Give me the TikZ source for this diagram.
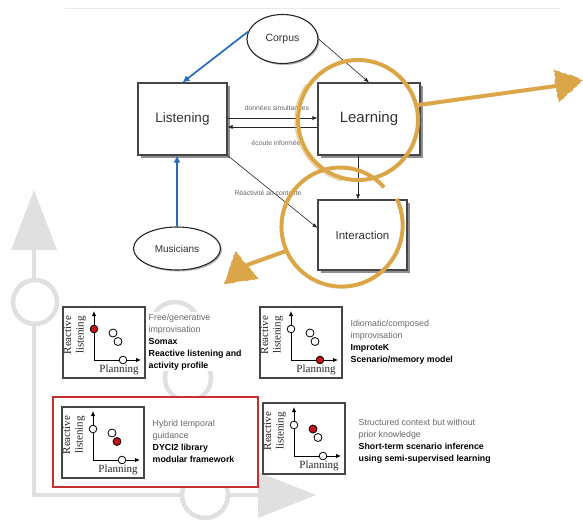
\documentclass[tikz,border=0pt]{standalone}
\usepackage{fontspec}
\setmainfont{Liberation Sans}
\newfontfamily\iconfont{Liberation Serif}
\usetikzlibrary{arrows.meta,shadows,calc,shapes.geometric,decorations.pathmorphing}

\definecolor{ochre}{RGB}{218,166,72}
\definecolor{flowblue}{RGB}{38,108,186}
\definecolor{axisgrey}{RGB}{224,224,224}
\definecolor{framegrey}{RGB}{70,70,70}
\definecolor{notegrey}{RGB}{105,105,105}
\definecolor{panelred}{RGB}{200,48,48}
\definecolor{dotred}{RGB}{196,18,28}

\tikzset{
  stagebox/.style={draw=framegrey, line width=1.1pt, fill=white, inner sep=0pt,
    text=black!80, drop shadow={shadow xshift=2.5pt, shadow yshift=-2.5pt, fill=black!55, opacity=.8}},
  source/.style={ellipse, draw=black!85, line width=1.1pt, fill=white, inner sep=0pt,
    text=black!80, drop shadow={shadow xshift=1.5pt, shadow yshift=-1.5pt, fill=black!40, opacity=.7}},
  link/.style={draw=black!85, line width=0.6pt, -{Latex[length=5pt,width=4pt]}},
  flow/.style={draw=flowblue, line width=1.7pt, -{Latex[length=7pt,width=7pt]}},
  smalllabel/.style={font=\fontsize{6.8}{8}\selectfont, text=black!60, inner sep=0pt},
  backdrop/.style={draw=axisgrey, line width=4.5pt},
  ring/.style={draw=ochre, line width=4pt},
  brush/.style={fill=ochre, decorate, decoration={random steps, segment length=2.5pt, amplitude=0.7pt}},
  iconframe/.style={draw=framegrey, line width=1.2pt, fill=white, minimum width=82pt,
    minimum height=71pt, inner sep=0pt},
  iconaxis/.style={draw=black, line width=0.9pt, -{Latex[length=5pt,width=4.5pt]}},
  icondot/.style={draw=black, line width=0.8pt},
  iconlabel/.style={font=\iconfont\fontsize{11}{12.5}\selectfont, inner sep=0pt, text=black!85},
  paneltext/.style={font=\fontsize{8.8}{12}\selectfont, align=left, anchor=north west,
    inner sep=1.5pt, fill=white},
}

% Small "reactive listening / planning" diagram.
% #1 origin, #2 name, #3 dot on the listening axis, #4 dot on the planning axis,
% #5 upper middle dot, #6 lower middle dot
\newcommand\rlicon[6]{%
  \begin{scope}[shift={(#1)}]
    \node[iconframe] (#2) at (41,35.5) {};
    \coordinate (#2o) at (31,53);
    \draw[iconaxis] (#2o) -- ++(0,-49);
    \draw[iconaxis] (#2o) -- ++(47,0);
    \draw[icondot, fill=#3] (31,22) circle (3.8);
    \draw[icondot, fill=#4] (60,53) circle (3.8);
    \draw[icondot, fill=#5] (50,26) circle (4);
    \draw[icondot, fill=#6] (55,34.5) circle (4);
    \node[iconlabel, rotate=90, align=center] (#2r) at (12,28) {Reactive\\listening};
    \node[iconlabel] (#2p) at (56,63) {Planning};
  \end{scope}}

\begin{document}
\begin{tikzpicture}[x=1pt,y=-1pt]
\useasboundingbox (0,0) rectangle (583,519);
\fill[white] (0,0) rectangle (583,519);
\draw[black!8, line width=0.8pt] (65,8) -- (560,8);

% large pale axes in the background
\draw[backdrop] (34,248) -- (34,495) -- (260,495);
\fill[axisgrey] (34,190) -- (57,250) -- (11,250) -- cycle;
\fill[axisgrey] (316,495) -- (258,472) -- (258,518) -- cycle;
\draw[backdrop, fill=white] (35,302) circle (22);
\draw[backdrop, fill=white] (205,495) circle (23);
\draw[backdrop] (175,326) circle (24);
\draw[backdrop] (188,378) circle (23);

% processing stages
\node[stagebox, minimum width=89pt, minimum height=72pt, font=\fontsize{13.5}{16}\selectfont] (listening) at (182.5,119) {Listening};
\node[stagebox, minimum width=102pt, minimum height=72pt, font=\fontsize{15}{18}\selectfont] (learning) at (369,119) {Learning};
\node[stagebox, minimum width=89pt, minimum height=70pt, font=\fontsize{11.5}{14}\selectfont] (interaction) at (362.5,235) {Interaction};
\node[source, minimum width=71pt, minimum height=49pt, font=\fontsize{10.5}{12}\selectfont] (corpus) at (282.5,39) {Corpus};
\node[source, minimum width=87pt, minimum height=43pt, font=\fontsize{10}{12}\selectfont] (musicians) at (177,248.5) {Musicians};

% connections
\draw[flow] (corpus.168) -- (listening.north);
\draw[flow] (musicians.north) -- (musicians.north |- listening.south);
\draw[link] (corpus.east) -- (learning.north);
\draw[link] ($(listening.east)+(0,-1)$) -- ($(learning.west)+(0,-1)$);
\draw[link] ($(learning.west)+(0,8)$) -- ($(listening.east)+(0,8)$);
\draw[link] (listening.south east) -- ($(interaction.west)+(0,-7)$);
\draw[link] ($(learning.south)+(-11,0)$) -- ($(interaction.north)+(-4.5,0)$);
\node[smalllabel] (lab1) at (277,108) {données simultanées};
\node[smalllabel] (lab2) at (276,143) {écoute informée};
\node[smalllabel] (lab3) at (268,193) {Réactivité au contexte};

% highlighted stages
\node[ring, circle, minimum size=120pt, inner sep=0pt] (ring1) at (358,120) {};
\draw[draw=ochre, line width=1.2pt, opacity=.55] (358,120) ++(105:63) arc[start angle=105, end angle=215, radius=63];
\coordinate (head1) at (556,86);
\coordinate (tip1) at (583,80);
\draw[draw=ochre, line width=4pt] (ring1.14) -- (head1);
\path[brush] (553.6,69.2) -- (tip1) -- (558.4,102.8) -- cycle;

\draw[ring] plot[smooth, domain=-26:318, samples=90]
  ({341+(62-0.012*(\x+26))*cos(\x)}, {226+(62-0.012*(\x+26))*sin(\x)});
\coordinate (ring2) at (286,251);
\coordinate (head2) at (247,265);
\coordinate (tip2) at (224,284);
\draw[draw=ochre, line width=4pt] (ring2) -- (head2);
\path[brush] (258.5,278.9) -- (tip2) -- (235.5,251.1) -- cycle;

% approaches
\draw[panelred, line width=1.6pt, fill=white] (53,397) rectangle (258,487);
\rlicon{63,307}{somax}{dotred}{white}{white}{white}
\rlicon{260,307}{improtek}{white}{dotred}{white}{white}
\rlicon{62,407}{dyci}{white}{white}{white}{dotred}
\rlicon{263,403}{inference}{white}{white}{dotred}{white}

\node[paneltext] (t1) at (147,312) {\textcolor{notegrey}{Free/generative}\\\textcolor{notegrey}{improvisation}\\\textbf{Somax}\\\textbf{Reactive listening and}\\\textbf{activity profile}};
\node[paneltext] (t2) at (349,318) {\textcolor{notegrey}{Idiomatic/composed}\\\textcolor{notegrey}{improvisation}\\\textbf{ImproteK}\\\textbf{Scenario/memory model}};
\node[paneltext] (t3) at (151,418) {\textcolor{notegrey}{Hybrid temporal}\\\textcolor{notegrey}{guidance}\\\textbf{DYCI2 library}\\\textbf{modular framework}};
\node[paneltext] (t4) at (357,417) {\textcolor{notegrey}{Structured context but without}\\\textcolor{notegrey}{prior knowledge}\\\textbf{Short-term scenario inference}\\\textbf{using semi-supervised learning}};
\end{tikzpicture}
\end{document}
